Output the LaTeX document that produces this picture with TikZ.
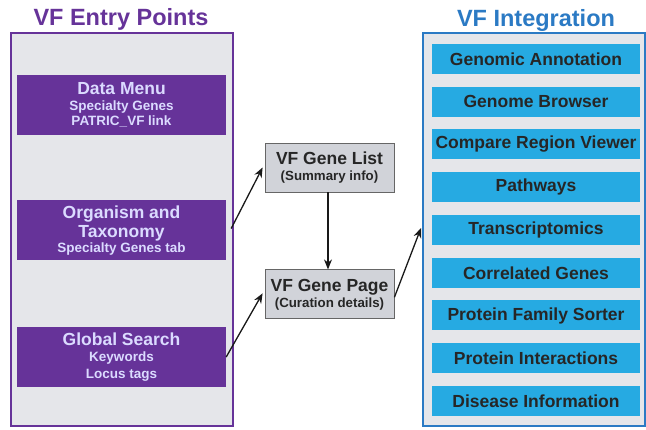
\documentclass[tikz,border=0pt]{standalone}
\usepackage{fontspec}
\setmainfont{Liberation Sans}
\usepackage{xcolor}
\usepackage{tikz}
\usetikzlibrary{positioning,arrows.meta}

\definecolor{vfpurple}{RGB}{102,51,153}
\definecolor{vfblue}{RGB}{38,170,226}
\definecolor{vfframe}{RGB}{43,122,196}
\definecolor{panelgray}{RGB}{229,230,234}
\definecolor{genegray}{RGB}{209,211,217}

\newcommand{\vfhead}[1]{{\fontsize{17.5}{19}\selectfont #1}}

\begin{document}
\begin{tikzpicture}[x=1pt, y=-1pt, font=\bfseries,
		panel/.style={line width=2pt, fill=panelgray, minimum width=222pt, minimum height=393pt, inner sep=0pt},
		entrybox/.style={fill=vfpurple, text=white!86!blue, minimum width=209pt, minimum height=60pt, align=center, inner sep=0pt, font=\fontsize{13.5}{15.5}\selectfont\bfseries},
		toolbox/.style={fill=vfblue, text=black!85, minimum width=208pt, minimum height=30pt, inner sep=0pt, font=\fontsize{17.5}{19}\selectfont\bfseries},
		genebox/.style={draw=gray!80!black, line width=0.8pt, fill=genegray, text=black!85, minimum width=129pt, minimum height=49pt, align=center, inner sep=0pt, font=\fontsize{13.3}{16}\selectfont\bfseries},
		link/.style={-{Stealth[length=10pt,width=8pt]}, line width=1.3pt, black!90}]
	\useasboundingbox (0,0) rectangle (646,430);
	\node[text=vfpurple, font=\fontsize{23.5}{26}\selectfont\bfseries] (entrytitle) at (121,19) {VF Entry Points};
	\node[text=vfframe, font=\fontsize{23.5}{26}\selectfont\bfseries] (integrationtitle) at (536,20) {VF Integration};
	\node[panel, draw=vfpurple] (entrypanel) at (122,230) {};
	\node[panel, draw=vfframe] (integration) at (534,230) {};
	\node[entrybox] (datamenu) at (121.5,105) {\vfhead{Data Menu}\\ Specialty Genes\\ PATRIC\_VF link};
	\node[entrybox] (taxonomy) at (121.5,230.5) {\vfhead{Organism and}\\[2.5pt] \vfhead{Taxonomy}\\ Specialty Genes tab};
	\node[entrybox] (search) at (121.5,357) {\vfhead{Global Search}\\[0.5pt] Keywords\\[1pt] Locus tags};
	\node[genebox] (genelist) at (329.5,167.5) {\vfhead{VF Gene List}\\ (Summary info)};
	\node[genebox, below=77pt of genelist] (genepage) {\vfhead{VF Gene Page}\\ (Curation details)};
	\foreach \tool [count=\i from 0] in {Genomic Annotation, Genome Browser, Compare Region Viewer, Pathways, Transcriptomics, Correlated Genes, Protein Family Sorter, Protein Interactions, Disease Information}
		\node[toolbox] (tool\i) at (536,59+42.75*\i) {\tool};
	\draw[link] ([xshift=5pt,yshift=2pt]taxonomy.east) -- ([xshift=-2pt]genelist.west);
	\draw[link] (search.east) -- ([xshift=-2pt,yshift=1pt]genepage.west);
	\draw[link] ([xshift=-1.5pt]genelist.south) -- ([xshift=-1.5pt]genepage.north);
	\draw[link] ([yshift=-3pt]genepage.east) -- ([xshift=-1pt,yshift=2pt]integration.west);
\end{tikzpicture}
\end{document}
